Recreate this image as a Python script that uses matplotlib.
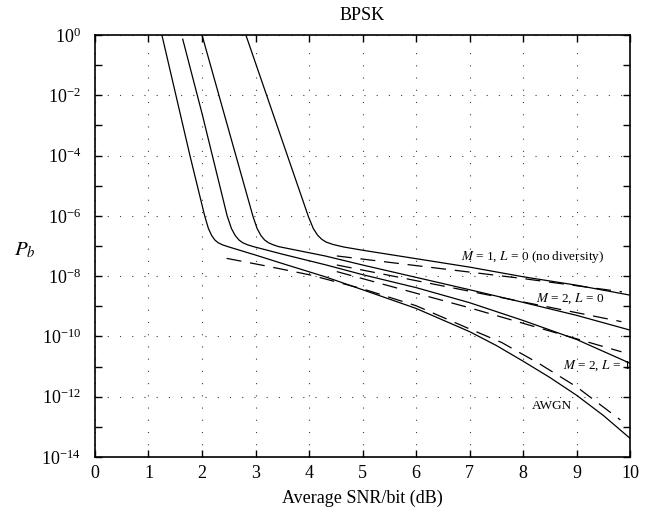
import matplotlib
matplotlib.use("Agg")
import matplotlib.pyplot as plt
import numpy as np
from matplotlib.ticker import NullFormatter

plt.rcParams['font.family'] = ['Liberation Serif', 'DejaVu Serif']
plt.rcParams['mathtext.fontset'] = 'stix'

# solid curves: x in dB, y as log10(Pb)
awgn_x = [1.25, 1.78, 2.05, 2.12, 2.18, 2.24, 2.30, 2.38, 2.50, 3.0, 3.5, 4.3, 5.0, 6.0, 7.0, 7.5, 8.0, 8.5, 9.0, 9.5, 10.0]
awgn_log = [0, -4.04, -6.0, -6.42, -6.65, -6.80, -6.89, -6.96, -7.03, -7.30, -7.58, -8.02, -8.45, -9.07, -9.84, -10.30, -10.82, -11.36, -11.95, -12.62, -13.38]

m2l1_x = [1.64, 2.0, 2.47, 2.55, 2.62, 2.69, 2.76, 2.85, 2.96, 3.5, 4.3, 5.0, 6.0, 7.0, 8.0, 9.0, 10.0]
m2l1_log = [-0.14, -2.6, -6.0, -6.42, -6.65, -6.80, -6.89, -6.96, -7.02, -7.27, -7.62, -7.95, -8.38, -8.88, -9.47, -10.1, -10.89]

m2l0_x = [2.0, 2.5, 2.95, 3.03, 3.10, 3.17, 3.24, 3.33, 3.43, 4.3, 5.0, 6.0, 7.0, 8.0, 9.0, 10.0]
m2l0_log = [0, -3.16, -6.0, -6.42, -6.65, -6.80, -6.89, -6.96, -7.02, -7.33, -7.63, -8.04, -8.45, -8.87, -9.3, -9.79]

m1l0_x = [2.82, 3.4, 3.99, 4.08, 4.16, 4.24, 4.32, 4.45, 4.64, 5.0, 6.0, 7.0, 8.0, 9.0, 10.0]
m1l0_log = [0, -2.99, -6.03, -6.42, -6.64, -6.78, -6.87, -6.95, -7.03, -7.14, -7.42, -7.70, -8.02, -8.30, -8.63]

# dashed curves
d1_x = [4.52, 6.0, 8.0, 9.85]
d1_log = [-7.33, -7.65, -8.08, -8.52]
d2_x = [4.52, 7.0, 9.84]
d2_log = [-7.63, -8.5, -9.51]
d3_x = [4.52, 7.0, 9.84]
d3_log = [-7.85, -9.05, -10.51]
d4_x = [2.46, 3.25, 4.02, 5.0, 6.0, 7.0, 7.6, 8.3, 9.0, 9.82]
d4_log = [-7.41, -7.68, -7.96, -8.42, -8.98, -9.75, -10.2, -10.90, -11.67, -12.77]

xticks = list(range(0, 11))
ymajor = [1e0, 1e-2, 1e-4, 1e-6, 1e-8, 1e-10, 1e-12, 1e-14]
yminor = [1e-1, 1e-3, 1e-5, 1e-7, 1e-9, 1e-11, 1e-13]

fig = plt.figure(figsize=(6.62, 5.14), dpi=100)
ax = fig.add_axes([0.1435, 0.1109, 0.8082, 0.821])

for xs, ls in [(awgn_x, awgn_log), (m2l1_x, m2l1_log), (m2l0_x, m2l0_log), (m1l0_x, m1l0_log)]:
    ax.plot(xs, 10.0 ** np.array(ls), color='black', lw=0.9)
for xs, ls in [(d1_x, d1_log), (d2_x, d2_log), (d3_x, d3_log), (d4_x, d4_log)]:
    ax.plot(xs, 10.0 ** np.array(ls), color='black', lw=0.9, dashes=(12, 7))

ax.set_yscale('log')
ax.set_xlim(0, 10)
ax.set_ylim(1e-14, 1e0)
ax.set_xticks(xticks)
ax.set_yticks(ymajor)
ax.set_yticks(yminor, minor=True)
ax.yaxis.set_minor_formatter(NullFormatter())

ax.tick_params(which='both', direction='in', top=True, right=True, length=5, width=1)
ax.tick_params(axis='x', labelsize=13, pad=6)
ax.tick_params(axis='y', labelsize=13, pad=10)
for s in ax.spines.values():
    s.set_linewidth(1.2)

ax.grid(True, which='major', color='0.25', lw=0.8, linestyle=(0, (1, 10)))

ax.set_title('BPSK', fontsize=13, pad=11)
ax.set_xlabel('Average SNR/bit (dB)', fontsize=13, labelpad=5)
ax.set_ylabel('$P_b$', fontsize=15, rotation=0, va='center', ha='center')
ax.yaxis.set_label_coords(-0.131, 0.49)

fs = 9.5
ax.text(6.85, 10 ** -7.36, '$M$ = 1, $L$ = 0 (no diversity)', fontsize=fs, ha='left', va='center')
ax.text(8.25, 10 ** -8.74, '$M$ = 2, $L$ = 0', fontsize=fs, ha='left', va='center')
ax.text(10.02, 10 ** -10.98, '$M$ = 2, $L$ = 1', fontsize=fs, ha='right', va='center')
ax.text(8.16, 10 ** -12.31, 'AWGN', fontsize=fs, ha='left', va='center')

fig.savefig('out.png', dpi=100)
